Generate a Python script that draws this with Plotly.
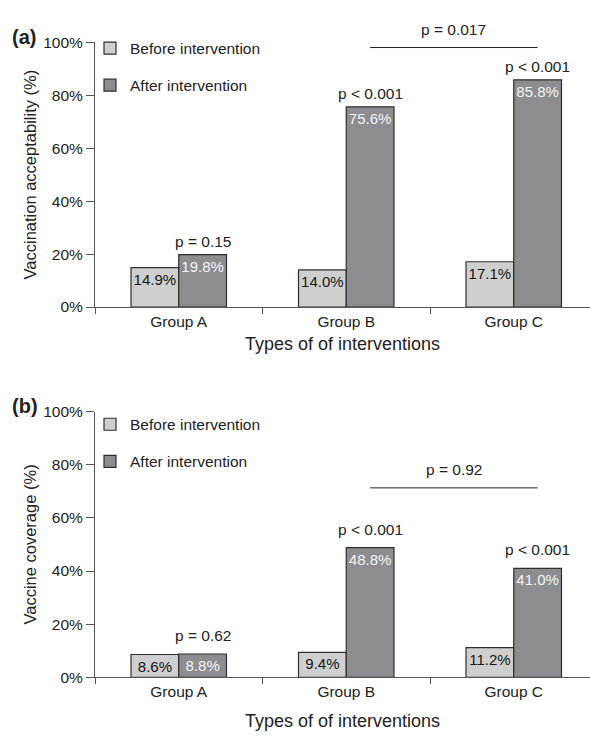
import plotly.graph_objects as go

groups = ["Group A", "Group B", "Group C"]
accept_before = [14.9, 14.0, 17.1]
accept_after = [19.8, 75.6, 85.8]
accept_p = ["p = 0.15", "p < 0.001", "p < 0.001"]
accept_bc_p = "p = 0.017"
accept_bc_level = 98.0

cover_before = [8.6, 9.4, 11.2]
cover_after = [8.8, 48.8, 41.0]
cover_p = ["p = 0.62", "p < 0.001", "p < 0.001"]
cover_bc_p = "p = 0.92"
cover_bc_level = 71.3

y_ticks = [0, 20, 40, 60, 80, 100]
y_tick_labels = ["0%", "20%", "40%", "60%", "80%", "100%"]

LIGHT = "#cfcfcf"
DARK = "#8d8d91"
EDGE = "#2e2e2e"
TXT = "#222222"
FONT = "Arial, Liberation Sans, sans-serif"

W, H = 590, 744
L = 95
A_TOP, A_BOT = 34, 305
B_TOP, B_BOT = 412, 684

fig = go.Figure()

def add_panel(before, after, xa, ya, legend):
    fig.add_trace(go.Bar(
        x=groups, y=before, name="Before intervention",
        marker=dict(color=LIGHT, line=dict(color=EDGE, width=1.2)),
        texttemplate="%{y:.1f}%", textposition="inside", insidetextanchor="end", textangle=0,
        textfont=dict(color="#151515", size=15, family=FONT),
        constraintext="none", cliponaxis=False,
        xaxis=xa, yaxis=ya, legend=legend, legendgroup=legend + "1"))
    fig.add_trace(go.Bar(
        x=groups, y=after, name="After intervention",
        marker=dict(color=DARK, line=dict(color=EDGE, width=1.2)),
        texttemplate="%{y:.1f}%", textposition="inside", insidetextanchor="end", textangle=0,
        textfont=dict(color="#f4f4f4", size=15, family=FONT),
        constraintext="none", cliponaxis=False,
        xaxis=xa, yaxis=ya, legend=legend, legendgroup=legend + "2"))

add_panel(accept_before, accept_after, "x", "y", "legend")
add_panel(cover_before, cover_after, "x2", "y2", "legend2")

x_dom = [L / W, 1.0]
ya_dom = [1 - A_BOT / H, 1 - A_TOP / H]
yb_dom = [1 - B_BOT / H, 1 - B_TOP / H]
x_range = [-0.5, -0.5 + (W - L) / 167.5]

axis_common = dict(showline=True, linecolor="#555", linewidth=1, ticks="outside",
                   tickcolor="#555", tickfont=dict(size=15.5, color=TXT, family=FONT),
                   showgrid=False, zeroline=False)

def make_xaxis(anchor, standoff):
    return dict(axis_common, domain=x_dom, range=x_range, anchor=anchor,
                tickson="boundaries", type="category", ticklen=6,
                title=dict(text="Types of of interventions", font=dict(size=18, color=TXT, family=FONT),
                           standoff=standoff))

def make_yaxis(anchor, dom, title):
    return dict(axis_common, domain=dom, range=[0, 100], anchor=anchor,
                tickmode="array", tickvals=y_ticks, ticktext=y_tick_labels, ticklen=8,
                title=dict(text=title, font=dict(size=16.5, color=TXT, family=FONT), standoff=2))

fig.update_layout(
    xaxis=make_xaxis("y", 8), yaxis=make_yaxis("x", ya_dom, "Vaccination acceptability (%)"),
    xaxis2=make_xaxis("y2", 15), yaxis2=make_yaxis("x2", yb_dom, "Vaccine coverage (%)"),
)

legend_common = dict(xanchor="left", yanchor="top",
                     font=dict(size=15.5, family=FONT, color=TXT), bgcolor="rgba(0,0,0,0)",
                     traceorder="grouped", tracegroupgap=14, itemwidth=30)

fig.update_layout(
    width=W, height=H, margin=dict(l=0, r=0, t=0, b=0),
    plot_bgcolor="white", paper_bgcolor="white",
    barmode="group", bargap=0.43, bargroupgap=0,
    font=dict(family=FONT, color=TXT),
    showlegend=True,
    legend=dict(legend_common, x=90 / W, y=1 - 23 / H),
    legend2=dict(legend_common, x=90 / W, y=1 - 408 / H),
)

off = (1 - 0.43) / 4  # centre of the "after" bar within a category

def add_pvalues(after, pvals, bc_p, bc_level, xr, yr, shift):
    for i, (v, p) in enumerate(zip(after, pvals)):
        fig.add_annotation(x=i + off, y=v, xref=xr, yref=yr, text=p, showarrow=False,
                           yanchor="bottom", yshift=shift, font=dict(size=15.5, color=TXT, family=FONT))
    x0, x1 = 1 + off, 2 + off
    fig.add_shape(type="line", x0=x0, x1=x1, y0=bc_level, y1=bc_level, xref=xr, yref=yr,
                  line=dict(color="#222", width=1))
    fig.add_annotation(x=(x0 + x1) / 2, y=bc_level, xref=xr, yref=yr, text=bc_p, showarrow=False,
                       yanchor="bottom", yshift=8, font=dict(size=15.5, color=TXT, family=FONT))

add_pvalues(accept_after, accept_p, accept_bc_p, accept_bc_level, "x", "y", 3)
add_pvalues(cover_after, cover_p, cover_bc_p, cover_bc_level, "x2", "y2", 8)

for label, ypx in (("<b>(a)</b>", 29), ("<b>(b)</b>", 406)):
    fig.add_annotation(x=10 / W, y=1 - ypx / H, xref="paper", yref="paper", text=label,
                       showarrow=False, xanchor="left", yanchor="middle",
                       font=dict(size=20, color=TXT, family=FONT))

fig.write_html("out.html", config={"displayModeBar": False},
               post_script="document.body.style.margin='0';document.body.style.overflow='hidden';")
